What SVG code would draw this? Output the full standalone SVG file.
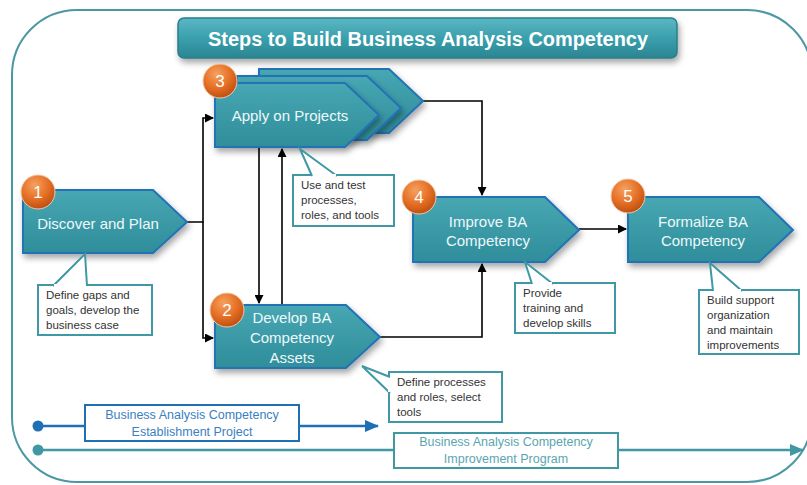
<svg xmlns="http://www.w3.org/2000/svg" width="807" height="485" viewBox="0 0 807 485">
<defs>
<linearGradient id="gNode" x1="0" y1="0" x2="0" y2="1">
<stop offset="0" stop-color="#47a7b3"/>
<stop offset="1" stop-color="#2f8d9a"/>
</linearGradient>
<linearGradient id="gTitle" x1="0" y1="0" x2="0" y2="1">
<stop offset="0" stop-color="#5bb7c3"/>
<stop offset="0.5" stop-color="#3aa0ad"/>
<stop offset="1" stop-color="#2b8592"/>
</linearGradient>
<radialGradient id="gBadge" cx="0.4" cy="0.3" r="0.75">
<stop offset="0" stop-color="#f6a160"/>
<stop offset="0.55" stop-color="#e56f24"/>
<stop offset="1" stop-color="#b94a10"/>
</radialGradient>
<filter id="sh" x="-10%" y="-10%" width="130%" height="140%">
<feDropShadow dx="2" dy="4" stdDeviation="3" flood-color="#000" flood-opacity="0.35"/>
</filter>
<marker id="ak" markerUnits="userSpaceOnUse" markerWidth="9" markerHeight="9" refX="8" refY="4.5" orient="auto">
<path d="M0,0 L9,4.5 L0,9 z" fill="#000"/>
</marker>
<marker id="ab" markerUnits="userSpaceOnUse" markerWidth="14" markerHeight="12" refX="13" refY="6" orient="auto">
<path d="M0,0 L14,6 L0,12 z" fill="#1f6fb5"/>
</marker>
<marker id="at" markerUnits="userSpaceOnUse" markerWidth="14" markerHeight="12" refX="13" refY="6" orient="auto">
<path d="M0,0 L14,6 L0,12 z" fill="#3f98a4"/>
</marker>
</defs>
<style>
.node{fill:url(#gNode);stroke:#2372b6;stroke-width:2;filter:url(#sh)}
.inner{fill:none;stroke:#7fd0dc;stroke-width:1;opacity:0.6}
.ntxt{font-family:"Liberation Sans",Arial,sans-serif;font-size:15px;fill:#eef8fa;text-anchor:middle}
.badge{fill:url(#gBadge);stroke:#f3c9a8;stroke-width:1}
.btxt{font-family:"Liberation Sans",Arial,sans-serif;font-size:17px;fill:#fff;text-anchor:middle}
.call{fill:#fff;stroke:#3f98a4;stroke-width:2}
.ptr{fill:#fff;stroke:#3f98a4;stroke-width:2;stroke-linejoin:miter}
.ctxt{font-family:"Liberation Sans",Arial,sans-serif;font-size:11.5px;fill:#333}
.con{fill:none;stroke:#000;stroke-width:1.6}
</style>
<rect x="12" y="10" width="800" height="472" rx="65" ry="65" fill="#fff" stroke="#4b97a4" stroke-width="2"/>
<g id="title">
<rect x="178" y="18" width="499" height="40" rx="6" fill="url(#gTitle)" stroke="#2a7f8c" stroke-width="1.5" filter="url(#sh)"/>
<text x="428" y="46" font-family="'Liberation Sans',Arial,sans-serif" font-size="20" font-weight="bold" fill="#fff" text-anchor="middle" textLength="440" lengthAdjust="spacingAndGlyphs">Steps to Build Business Analysis Competency</text>
</g>
<g id="connectors">
<polyline class="con" points="187,222 203,222 203,118 213,118" marker-end="url(#ak)"/>
<polyline class="con" points="203,222 203,338 213,338" marker-end="url(#ak)"/>
<line class="con" x1="259" y1="147" x2="259" y2="303" marker-end="url(#ak)"/>
<line class="con" x1="282" y1="305" x2="282" y2="149" marker-end="url(#ak)"/>
<polyline class="con" points="423,101 482,101 482,195" marker-end="url(#ak)"/>
<polyline class="con" points="380,337 482,337 482,264" marker-end="url(#ak)"/>
<line class="con" x1="579" y1="229" x2="626" y2="229" marker-end="url(#ak)"/>
</g>
<g id="node1">
<path class="node" d="M23,190 L153,190 L187,222 L153,253 L23,253 Z"/>
<text class="ntxt" x="98" y="229">Discover and Plan</text>
<circle class="badge" cx="38" cy="192" r="17"/>
<text class="btxt" x="38" y="198">1</text>
</g>
<g id="node3">
<path class="node" d="M259,69 L389,69 L423,101 L389,133 L259,133 Z"/>
<path class="node" d="M237,76 L367,76 L401,108 L367,140 L237,140 Z"/>
<path class="node" d="M215,83 L345,83 L379,115 L345,147 L215,147 Z"/>
<text class="ntxt" x="290" y="121">Apply on Projects</text>
<circle class="badge" cx="220" cy="81" r="17"/>
<text class="btxt" x="220" y="87">3</text>
</g>
<g id="node2">
<path class="node" d="M215,305 L346,305 L380,337 L346,368 L215,368 Z"/>
<text class="ntxt" x="292" y="323">Develop BA</text>
<text class="ntxt" x="292" y="343">Competency</text>
<text class="ntxt" x="292" y="363">Assets</text>
<circle class="badge" cx="227" cy="310" r="17"/>
<text class="btxt" x="227" y="316">2</text>
</g>
<g id="node4">
<path class="node" d="M413,197 L545,197 L579,230 L545,262 L413,262 Z"/>
<text class="ntxt" x="488" y="227">Improve BA</text>
<text class="ntxt" x="488" y="246">Competency</text>
<circle class="badge" cx="419" cy="197" r="17"/>
<text class="btxt" x="419" y="203">4</text>
</g>
<g id="node5">
<path class="node" d="M628,197 L759,197 L793,230 L759,262 L628,262 Z"/>
<text class="ntxt" x="703" y="227">Formalize BA</text>
<text class="ntxt" x="703" y="246">Competency</text>
<circle class="badge" cx="628" cy="196" r="17"/>
<text class="btxt" x="628" y="202">5</text>
</g>
<g id="callout1">
<rect class="call" x="38" y="285" width="114" height="50"/>
<path class="ptr" d="M53,286 L85,254 L87,286"/>
<line x1="54" y1="285" x2="86" y2="285" stroke="#fff" stroke-width="2"/>
<text class="ctxt" x="46" y="299">Define gaps and</text>
<text class="ctxt" x="46" y="314">goals, develop the</text>
<text class="ctxt" x="46" y="329">business case</text>
</g>
<g id="callout3">
<rect class="call" x="293" y="175" width="101" height="51"/>
<path class="ptr" d="M312,176 L300,149 L337,176"/>
<line x1="313" y1="175" x2="336" y2="175" stroke="#fff" stroke-width="2"/>
<text class="ctxt" x="301" y="189">Use and test</text>
<text class="ctxt" x="301" y="204">processes,</text>
<text class="ctxt" x="301" y="219">roles, and tools</text>
</g>
<g id="callout2">
<rect class="call" x="389" y="372" width="113" height="50"/>
<path class="ptr" d="M390,377 L362,366 L390,393"/>
<line x1="389" y1="378" x2="389" y2="392" stroke="#fff" stroke-width="2"/>
<text class="ctxt" x="397" y="386">Define processes</text>
<text class="ctxt" x="397" y="401">and roles, select</text>
<text class="ctxt" x="397" y="416">tools</text>
</g>
<g id="callout4">
<rect class="call" x="515" y="283" width="100" height="50"/>
<path class="ptr" d="M532,284 L525,262 L553,284"/>
<line x1="533" y1="283" x2="552" y2="283" stroke="#fff" stroke-width="2"/>
<text class="ctxt" x="523" y="297">Provide</text>
<text class="ctxt" x="523" y="312">training and</text>
<text class="ctxt" x="523" y="327">develop skills</text>
</g>
<g id="callout5">
<rect class="call" x="699" y="290" width="100" height="64"/>
<path class="ptr" d="M713,291 L710,263 L742,291"/>
<line x1="714" y1="290" x2="741" y2="290" stroke="#fff" stroke-width="2"/>
<text class="ctxt" x="707" y="304">Build support</text>
<text class="ctxt" x="707" y="319">organization</text>
<text class="ctxt" x="707" y="334">and maintain</text>
<text class="ctxt" x="707" y="349">improvements</text>
</g>
<g id="establishment">
<circle cx="38" cy="426" r="5.5" fill="#1f6fb5"/>
<line x1="38" y1="426" x2="378" y2="426" stroke="#1f6fb5" stroke-width="2.5" marker-end="url(#ab)"/>
<rect x="85" y="405" width="214" height="36" fill="#fff" stroke="#1f6fb5" stroke-width="2"/>
<text x="192" y="419" font-family="'Liberation Sans',Arial,sans-serif" font-size="12.5" fill="#3b7fbf" text-anchor="middle">Business Analysis Competency</text>
<text x="192" y="436" font-family="'Liberation Sans',Arial,sans-serif" font-size="12.5" fill="#3b7fbf" text-anchor="middle">Establishment Project</text>
</g>
<g id="improvement">
<circle cx="38" cy="450" r="5.5" fill="#3f98a4"/>
<line x1="38" y1="450" x2="803" y2="450" stroke="#3f98a4" stroke-width="2.5" marker-end="url(#at)"/>
<rect x="394" y="433" width="224" height="35" fill="#fff" stroke="#3f98a4" stroke-width="2"/>
<text x="506" y="446" font-family="'Liberation Sans',Arial,sans-serif" font-size="12.5" fill="#5aa6b0" text-anchor="middle">Business Analysis Competency</text>
<text x="506" y="463" font-family="'Liberation Sans',Arial,sans-serif" font-size="12.5" fill="#5aa6b0" text-anchor="middle">Improvement Program</text>
</g>
</svg>
